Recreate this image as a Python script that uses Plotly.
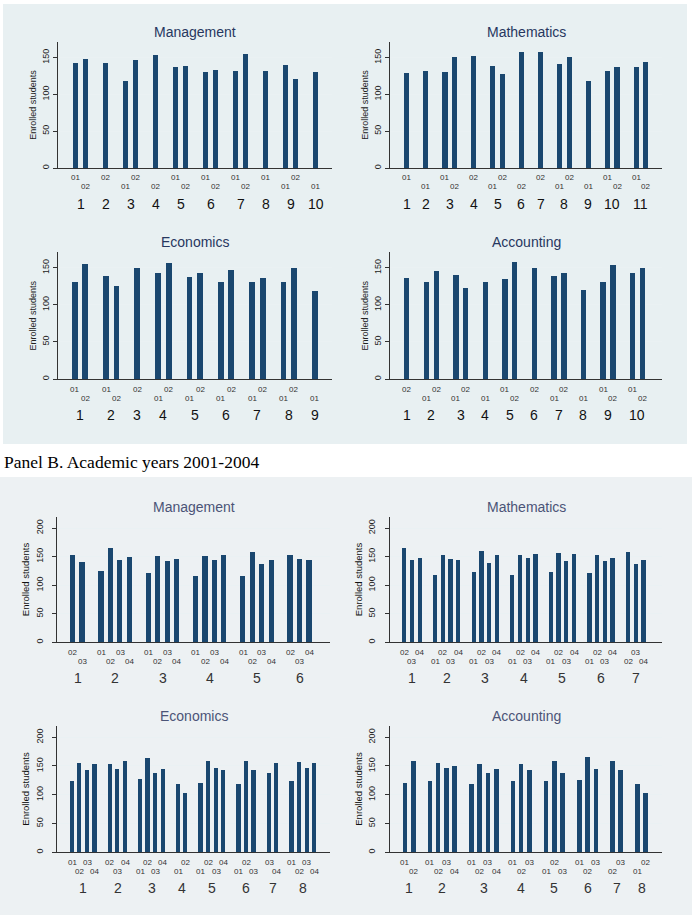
import plotly.graph_objects as go

# ---------------- data ----------------
# Panel A (two academic years, labels 01/02); each inner list = one group (class)
mgmt_a_years = [["01", "02"], ["02"], ["01", "02"], ["02"], ["01", "02"], ["01", "02"], ["01", "02"], ["01"], ["01", "02"], ["01"]]
mgmt_a_vals = [[142, 148], [143], [118, 147], [154], [137, 139], [130, 133], [131, 155], [132], [140, 121], [130]]

math_a_years = [["01"], ["01"], ["01", "02"], ["02"], ["01", "02"], ["02"], ["02"], ["01", "02"], ["01"], ["01", "02"], ["01", "02"]]
math_a_vals = [[129], [132], [130, 150], [152], [138, 128], [158], [157], [141, 151], [118], [131, 137], [137, 144]]

econ_a_years = [["01", "02"], ["01", "02"], ["02"], ["01", "02"], ["01", "02"], ["01", "02"], ["01", "02"], ["01", "02"], ["01"]]
econ_a_vals = [[130, 155], [139, 125], [150], [143, 156], [137, 142], [131, 147], [131, 136], [131, 149], [119]]

acc_a_years = [["02"], ["01", "02"], ["01", "02"], ["01"], ["01", "02"], ["02"], ["01", "02"], ["01"], ["01", "02"], ["01", "02"]]
acc_a_vals = [[136], [131, 146], [140, 123], [131], [134, 157], [149], [138, 142], [120], [131, 153], [143, 150]]

# Panel B (academic years 2001-2004, labels 01..04)
mgmt_b_years = [["02", "03"], ["01", "02", "03", "04"], ["01", "02", "03", "04"], ["01", "02", "03", "04"],
                ["01", "02", "03", "04"], ["02", "03", "04"]]
mgmt_b_vals = [[154, 141], [125, 165, 144, 150], [122, 152, 143, 146], [117, 152, 144, 154],
               [117, 159, 138, 144], [154, 146, 144]]

math_b_years = [["02", "03", "04"], ["01", "02", "03", "04"], ["01", "02", "03", "04"], ["01", "02", "03", "04"],
                ["01", "02", "03", "04"], ["01", "02", "03", "04"], ["02", "03", "04"]]
math_b_vals = [[165, 144, 149], [118, 154, 146, 144], [124, 161, 140, 154], [118, 154, 148, 156],
               [124, 157, 143, 155], [122, 154, 143, 148], [159, 138, 144]]

econ_b_years = [["01", "02", "03", "04"], ["02", "03", "04"], ["01", "02", "03", "04"], ["01", "02"],
                ["01", "02", "03", "04"], ["01", "02", "03"], ["03", "04"], ["01", "02", "03", "04"]]
econ_b_vals = [[124, 156, 143, 154], [154, 146, 159], [128, 165, 139, 146], [119, 104],
               [121, 160, 147, 144], [120, 160, 144], [138, 156], [124, 157, 147, 156]]

acc_b_years = [["01", "02"], ["01", "02", "03", "04"], ["01", "02", "03", "04"], ["01", "02", "03"],
               ["01", "02", "03"], ["01", "02", "03"], ["02", "03"], ["01", "02"]]
acc_b_vals = [[121, 160], [124, 156, 147, 151], [120, 154, 139, 146], [124, 154, 143],
              [125, 159, 139], [127, 167, 146], [159, 144], [120, 104]]

titles = ["Management", "Mathematics", "Economics", "Accounting"]
y_title = "Enrolled students"
panel_b_caption = "Panel B. Academic years 2001-2004"

# ---------------- layout config ----------------
W, H = 692, 915
BAR = "#1a476f"
SANS = "Liberation Sans, Arial, sans-serif"

sets = {
    "A": dict(rows=[(42, 168), (252.3, 379)], cols=[(58, 332), (390, 662)], ymax=171,
              title_color="#27375f", tick_font=9, ytitle_font=dict(size=9, color="#222"),
              standoff=0, title_standoff=3, num_font=dict(size=14, color="#111")),
    "B": dict(rows=[(516.7, 642.3), (725.7, 852.3)], cols=[(57.3, 330), (390, 662)], ymax=220,
              title_color="#4b5477", tick_font=9, ytitle_font=dict(size=9.5, color="#111"),
              standoff=6, title_standoff=3, num_font=dict(size=14, color="#333")),
}

panels = [
    ("A", 0, 0, titles[0], mgmt_a_years, mgmt_a_vals, (1.77, 1.63)),
    ("A", 0, 1, titles[1], math_a_years, math_a_vals, (1.75, 1.70)),
    ("A", 1, 0, titles[2], econ_a_years, econ_a_vals, (1.60, 1.64)),
    ("A", 1, 1, titles[3], acc_a_years, acc_a_vals, (1.71, 2.0)),
    ("B", 0, 0, titles[0], mgmt_b_years, mgmt_b_vals, (1.65, 2.2)),
    ("B", 0, 1, titles[1], math_b_years, math_b_vals, (1.85, 2.4)),
    ("B", 1, 0, titles[2], econ_b_years, econ_b_vals, (1.95, 2.05)),
    ("B", 1, 1, titles[3], acc_b_years, acc_b_vals, (1.8, 1.97)),
]

fig = go.Figure()
annotations = []
shapes = [
    dict(type="rect", xref="paper", yref="paper", x0=3 / W, x1=687 / W, y0=1 - 444 / H, y1=1 - 4 / H,
         fillcolor="#e8f0f2", line=dict(width=0), layer="below"),
    dict(type="rect", xref="paper", yref="paper", x0=0, x1=1, y0=0, y1=1 - 477 / H,
         fillcolor="#edf1f3", line=dict(width=0), layer="below"),
]

layout_axes = {}
for i, (s, r, c, title, years, vals, pad) in enumerate(panels, start=1):
    cfg = sets[s]
    top, bot = cfg["rows"][r]
    left, right = cfg["cols"][c]
    xs, ys, labs, centers = [], [], [], []
    pos = 0
    for g, (yr, vv) in enumerate(zip(years, vals)):
        gpos = []
        for y_lab, v in zip(yr, vv):
            xs.append(pos)
            ys.append(v)
            labs.append(y_lab)
            gpos.append(pos)
            pos += 1
        centers.append(sum(gpos) / len(gpos))
        pos += 1  # gap between groups
    xa = "x" if i == 1 else f"x{i}"
    ya = "y" if i == 1 else f"y{i}"
    fig.add_trace(go.Bar(x=xs, y=ys, width=0.55, marker=dict(color=BAR, line=dict(width=0)),
                         xaxis=xa, yaxis=ya, showlegend=False, hoverinfo="x+y"))
    kx = "xaxis" if i == 1 else f"xaxis{i}"
    ky = "yaxis" if i == 1 else f"yaxis{i}"
    layout_axes[kx] = dict(domain=[left / W, right / W], anchor=ya,
                           range=[xs[0] - pad[0], xs[-1] + pad[1]],
                           showticklabels=False, ticks="", showgrid=False, zeroline=False,
                           showline=True, linecolor="#333", linewidth=1, fixedrange=True)
    layout_axes[ky] = dict(domain=[1 - bot / H, 1 - top / H], anchor=xa,
                           range=[0, cfg["ymax"]], dtick=50, tick0=0,
                           tickangle=-90, ticks="outside", ticklen=4, tickcolor="#333",
                           tickfont=dict(size=cfg["tick_font"], color="#222", family=SANS),
                           ticklabelstandoff=cfg["standoff"],
                           showline=True, linecolor="#333", linewidth=1,
                           showgrid=True, gridcolor="#eaf1f3", gridwidth=1, zeroline=False,
                           title=dict(text=y_title, standoff=cfg["title_standoff"],
                                      font=dict(family=SANS, **cfg["ytitle_font"])),
                           fixedrange=True)
    xr = xa
    yd = f"{ya} domain"
    # staggered year labels
    for k, (xv, lab) in enumerate(zip(xs, labs)):
        annotations.append(dict(x=xv, y=0, xref=xr, yref=yd, text=lab, showarrow=False,
                                yanchor="middle", xanchor="center",
                                yshift=-10 if k % 2 == 0 else -19,
                                font=dict(size=8, color="#333", family=SANS)))
    # group numbers
    for g, cx in enumerate(centers, start=1):
        annotations.append(dict(x=cx, y=0, xref=xr, yref=yd, text=str(g), showarrow=False,
                                yanchor="middle", xanchor="center", yshift=-36,
                                font=dict(family=SANS, **cfg["num_font"])))
    # panel title
    annotations.append(dict(x=0.5, y=1, xref=f"{xa} domain", yref=yd, text=title, showarrow=False,
                            yanchor="middle", xanchor="center", yshift=10,
                            font=dict(size=14, color=cfg["title_color"], family=SANS)))

annotations.append(dict(x=2 / W, y=1 - 462 / H, xref="paper", yref="paper", text=panel_b_caption,
                        showarrow=False, xanchor="left", yanchor="middle",
                        font=dict(size=17.5, color="#000", family="Liberation Serif, Times New Roman, serif")))

fig.update_layout(width=W, height=H, autosize=False, margin=dict(l=0, r=0, t=0, b=0),
                  paper_bgcolor="white", plot_bgcolor="white", bargap=0,
                  annotations=annotations, shapes=shapes, **layout_axes)

fig.write_html("out.html")
